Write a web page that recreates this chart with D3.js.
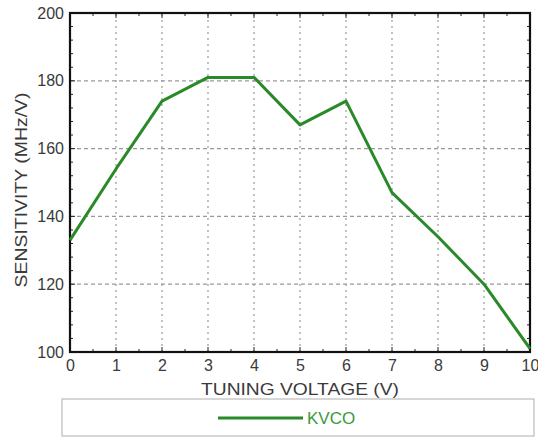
<!DOCTYPE html>
<html><head><meta charset="utf-8">
<script src="https://cdn.jsdelivr.net/npm/d3@7"></script>
<style>body{margin:0;background:#fff}svg{display:block}</style>
</head><body>
<script>
const voltages = [0,1,2,3,4,5,6,7,8,9,10];
const kvco = [133,154,174,181,181,167,174,147,134,120,101];
const xTicks = [0,1,2,3,4,5,6,7,8,9,10];
const yTicks = [100,120,140,160,180,200];
const seriesName = "KVCO";

const W=538,H=439;
const m={l:70,t:13,r:8,b:87};
const svg=d3.select("body").append("svg").attr("width",W).attr("height",H);
const x=d3.scaleLinear().domain([0,10]).range([m.l,W-m.r]);
const y=d3.scaleLinear().domain([100,200]).range([H-m.b,m.t]);
const font="Liberation Sans, Arial, sans-serif";

// grid
svg.append("g").selectAll("line").data(xTicks.slice(1,-1)).join("line")
  .attr("x1",d=>x(d)).attr("x2",d=>x(d)).attr("y1",y(100)).attr("y2",y(200))
  .attr("stroke","#999").attr("stroke-width",1.2).attr("stroke-dasharray","2,4");
svg.append("g").selectAll("line").data(yTicks.slice(1,-1)).join("line")
  .attr("y1",d=>y(d)).attr("y2",d=>y(d)).attr("x1",x(0)).attr("x2",x(10))
  .attr("stroke","#999").attr("stroke-width",1.2).attr("stroke-dasharray","4,3");

// minor ticks
const minorX=d3.range(0,10.01,0.5);
const minorY=d3.range(100,200.01,4);
const tk=svg.append("g").attr("stroke","#222").attr("stroke-width",1);
minorX.forEach(v=>{
  const L=Number.isInteger(v)?5:3;
  tk.append("line").attr("x1",x(v)).attr("x2",x(v)).attr("y1",y(100)).attr("y2",y(100)-L);
  tk.append("line").attr("x1",x(v)).attr("x2",x(v)).attr("y1",y(200)).attr("y2",y(200)+L);
});
minorY.forEach(v=>{
  const L=(v%20===0)?5:3;
  tk.append("line").attr("y1",y(v)).attr("y2",y(v)).attr("x1",x(0)).attr("x2",x(0)+L);
  tk.append("line").attr("y1",y(v)).attr("y2",y(v)).attr("x1",x(10)).attr("x2",x(10)-L);
});

// frame
svg.append("rect").attr("x",x(0)).attr("y",y(200)).attr("width",x(10)-x(0)).attr("height",y(100)-y(200))
  .attr("fill","none").attr("stroke","#111").attr("stroke-width",2.2);

// axes labels via d3 axes
const ax=svg.append("g").attr("transform",`translate(0,${y(100)})`)
  .call(d3.axisBottom(x).tickValues(xTicks).tickSize(0).tickPadding(8));
const ay=svg.append("g").attr("transform",`translate(${x(0)},0)`)
  .call(d3.axisLeft(y).tickValues(yTicks).tickSize(0).tickPadding(6));
[ax,ay].forEach(g=>{g.select(".domain").remove();
  g.selectAll("text").attr("font-family",font).attr("font-size",16).attr("fill","#3a3a3a");});

// line
svg.append("path").datum(voltages.map((v,i)=>[v,kvco[i]]))
  .attr("d",d3.line().x(d=>x(d[0])).y(d=>y(d[1])))
  .attr("fill","none").attr("stroke","#2a8a2a").attr("stroke-width",3).attr("stroke-linejoin","round");

// axis titles
svg.append("text").attr("x",300).attr("y",395).attr("text-anchor","middle")
  .attr("font-family",font).attr("font-size",17).attr("fill","#3a3a3a")
  .attr("textLength",198).attr("lengthAdjust","spacingAndGlyphs").text("TUNING VOLTAGE (V)");
svg.append("text").attr("transform",`translate(27,190) rotate(-90)`)
  .attr("text-anchor","middle").attr("font-family",font).attr("font-size",17).attr("fill","#3a3a3a")
  .attr("textLength",195).attr("lengthAdjust","spacingAndGlyphs")
  .text("SENSITIVITY (MHz/V)");

// legend
svg.append("rect").attr("x",62).attr("y",399).attr("width",472).attr("height",37)
  .attr("fill","#fff").attr("stroke","#bbb").attr("stroke-width",1.2);
svg.append("line").attr("x1",218).attr("x2",303).attr("y1",418).attr("y2",418)
  .attr("stroke","#2a8a2a").attr("stroke-width",3);
svg.append("text").attr("x",307).attr("y",424).attr("font-family",font).attr("font-size",17)
  .attr("fill","#3a9a3a").text(seriesName);
</script>
</body></html>
